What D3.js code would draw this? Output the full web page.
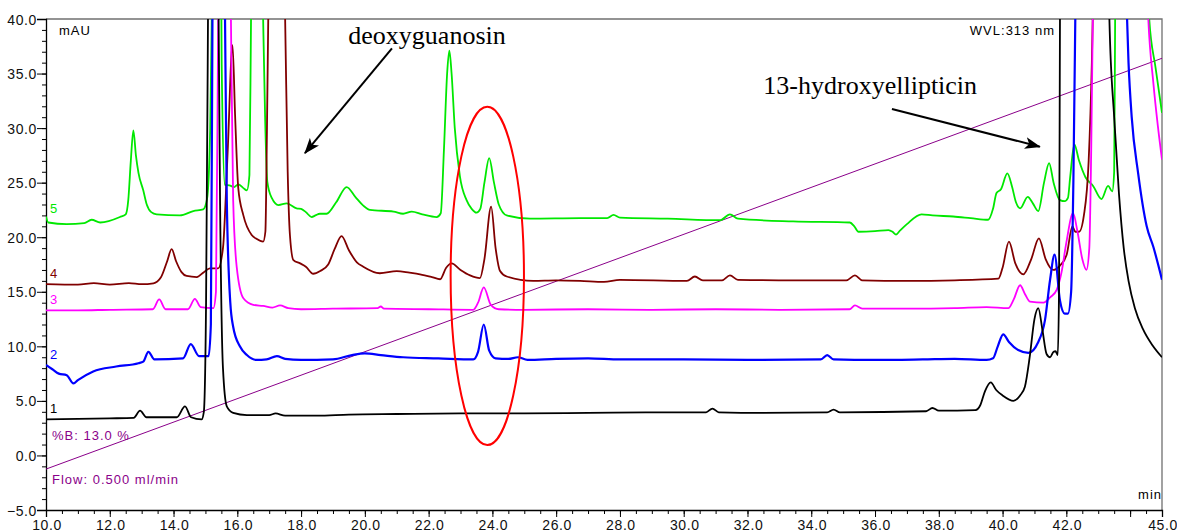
<!DOCTYPE html>
<html>
<head>
<meta charset="utf-8">
<script src="https://cdn.jsdelivr.net/npm/d3@7"></script>
<style>
  html, body { margin: 0; padding: 0; background: #fff; }
  svg text { font-family: "Liberation Sans", Arial, sans-serif; }
</style>
</head>
<body>
<svg id="chart" width="1177" height="532"></svg>
<script>
// ---- axes ----
const timeDomain = [10, 45];          // min
const signalDomain = [-5, 40];        // mAU
const xLabelTicks = [10, 12, 14, 16, 18, 20, 22, 24, 26, 28, 30, 32, 34, 36, 38, 40, 42, 45];
const xMajorTicks = [10, 12, 14, 16, 18, 20, 22, 24, 26, 28, 30, 32, 34, 36, 38, 40, 42, 44, 45];
const yLabelTicks = [-5, 0, 5, 10, 15, 20, 25, 30, 35, 40];

// ---- chromatograms: [retention time (min), absorbance (mAU)] ----
const trace1 = [
  [10.0, 3.3], [11.0, 3.35], [12.0, 3.4], [12.75, 3.45], [12.95, 4.1], [13.15, 3.5], [14.1, 3.5],
  [14.36, 4.5], [14.55, 3.5], [14.88, 3.3], [14.95, 4.0], [15.02, 14], [15.08, 40], [15.2, 110],
  [15.3, 110], [15.4, 45], [15.46, 23], [15.55, 8], [15.67, 4.5], [15.87, 3.9], [16.3, 3.7],
  [17.0, 3.7], [17.2, 3.85], [17.5, 3.65], [18.5, 3.65], [19.5, 3.75], [21.0, 3.8], [23.0, 3.85],
  [25.0, 3.85], [27.0, 3.9], [29.0, 3.95], [30.7, 3.95], [30.9, 4.3], [31.1, 3.95], [32.5, 3.9],
  [34.5, 3.95], [34.7, 4.2], [34.9, 3.95], [37.6, 4.05], [37.8, 4.35], [38.0, 4.1], [39.15, 4.15],
  [39.3, 4.6], [39.45, 5.9], [39.63, 6.7], [39.8, 6.0], [40.0, 5.5], [40.34, 5.0], [40.55, 5.5],
  [40.7, 6.3], [40.85, 9.0], [41.0, 12.5], [41.12, 13.5], [41.25, 11.5], [41.38, 9.3], [41.49, 9.0],
  [41.6, 9.5], [41.66, 9.55], [41.73, 9.2], [41.77, 15], [41.8, 40], [41.9, 90], [42.5, 250],
  [43.2, 70], [43.35, 40], [43.5, 31], [43.65, 24], [43.8, 19], [43.95, 16], [44.15, 13.5],
  [44.4, 11.6], [44.7, 10.1], [45.0, 9.0]
];

const trace2 = [
  [10.0, 8.3], [10.2, 7.9], [10.4, 7.5], [10.65, 7.35], [10.86, 6.6], [11.0, 6.9], [11.48, 7.7],
  [12.2, 8.15], [12.9, 8.45], [13.05, 8.6], [13.21, 9.5], [13.4, 8.8], [14.3, 8.9], [14.54, 10.2],
  [14.8, 9.1], [15.1, 9.1], [15.17, 12], [15.22, 40], [15.4, 100], [15.6, 45], [15.67, 23.4],
  [15.78, 14], [15.87, 11.8], [16.08, 10.0], [16.3, 9.2], [16.6, 8.75], [16.92, 8.8], [17.24, 9.1],
  [17.5, 8.85], [18.0, 8.75], [19.0, 8.8], [19.6, 9.2], [20.0, 9.35], [20.5, 9.2], [21.2, 9.0],
  [22.3, 8.9], [23.4, 8.8], [23.55, 9.5], [23.73, 12.0], [23.9, 9.6], [24.1, 8.9], [24.5, 8.85],
  [24.8, 9.0], [25.1, 8.75], [26.0, 8.85], [27.0, 8.9], [28.0, 8.8], [30.0, 8.8], [32.0, 8.75],
  [34.3, 8.8], [34.5, 9.2], [34.7, 8.8], [36.0, 8.75], [37.5, 8.8], [38.5, 8.85], [39.5, 8.75],
  [39.7, 8.9], [39.85, 10.0], [40.02, 11.1], [40.2, 10.4], [40.49, 9.66], [40.81, 9.4], [41.12, 10.4],
  [41.33, 12.4], [41.49, 16.1], [41.63, 18.4], [41.8, 14.2], [41.95, 13.0], [42.05, 13.0],
  [42.15, 15], [42.22, 25], [42.3, 45], [43.1, 150], [43.85, 45], [43.95, 36], [44.05, 31],
  [44.25, 25.9], [44.52, 21], [44.73, 19.1], [45.0, 16.1]
];

const trace3 = [
  [10.0, 13.3], [11.0, 13.3], [12.0, 13.35], [13.35, 13.4], [13.55, 14.3], [13.75, 13.4],
  [14.45, 13.4], [14.67, 14.35], [14.85, 13.6], [15.25, 13.5], [15.33, 15], [15.4, 40], [15.6, 100],
  [15.8, 40], [15.87, 23.4], [15.98, 17.3], [16.19, 14.4], [16.5, 13.8], [16.81, 13.7], [17.1, 13.55],
  [17.34, 13.75], [17.6, 13.5], [18.0, 13.4], [19.0, 13.45], [20.4, 13.5], [20.5, 13.65], [20.6, 13.45],
  [22.0, 13.4], [23.4, 13.35], [23.55, 14.0], [23.73, 15.4], [23.95, 13.8], [24.2, 13.4], [25.0, 13.35],
  [27.0, 13.4], [29.0, 13.35], [31.0, 13.4], [33.0, 13.35], [35.2, 13.4], [35.37, 13.75], [35.6, 13.45],
  [37.0, 13.45], [38.5, 13.5], [39.5, 13.6], [40.18, 13.5], [40.35, 14.3], [40.55, 15.6], [40.7, 14.8],
  [40.86, 14.1], [41.28, 14.0], [41.5, 14.5], [41.7, 15.2], [41.85, 16.8], [42.0, 19.5], [42.21, 22.2],
  [42.35, 20.5], [42.5, 18], [42.63, 17.0], [42.72, 19], [42.78, 28], [42.85, 45], [43.6, 150],
  [44.45, 50], [44.57, 40], [44.73, 34.1], [44.87, 30.2], [45.0, 27.1]
];

const trace4 = [
  [10.0, 15.7], [11.0, 15.65], [11.5, 15.8], [12.0, 15.65], [12.6, 15.8], [13.0, 15.7], [13.37, 15.78],
  [13.6, 16.3], [13.8, 17.8], [13.94, 18.9], [14.08, 17.8], [14.25, 16.8], [14.41, 16.45], [14.73, 16.35],
  [14.95, 16.8], [15.14, 17.15], [15.4, 17.15], [15.55, 19], [15.7, 28], [15.85, 37.6], [15.93, 31.2],
  [16.03, 24.5], [16.19, 22.0], [16.45, 20.2], [16.6, 19.85], [16.81, 19.6], [16.88, 20.5], [16.93, 30],
  [16.97, 40], [17.2, 70], [17.5, 40], [17.58, 26], [17.65, 20.2], [17.76, 17.9], [17.97, 17.6],
  [18.15, 17.3], [18.38, 16.65], [18.6, 16.9], [18.85, 17.5], [19.05, 18.9], [19.27, 20.1], [19.5, 18.8],
  [19.75, 17.7], [19.95, 17.3], [20.47, 16.7], [21.0, 16.9], [21.4, 16.75], [21.73, 16.6], [22.1, 16.35],
  [22.36, 16.15], [22.55, 17.2], [22.72, 17.6], [23.0, 17.0], [23.3, 16.5], [23.61, 16.25], [23.75, 18],
  [23.96, 22.8], [24.1, 19], [24.24, 16.9], [24.45, 16.4], [25.28, 16.0], [26.0, 16.05], [26.75, 16.0],
  [27.5, 15.9], [28.0, 16.1], [30.1, 16.0], [30.35, 16.4], [30.6, 16.05], [31.2, 16.05], [31.45, 16.5],
  [31.7, 16.1], [33.5, 16.05], [35.1, 16.05], [35.37, 16.5], [35.6, 16.05], [37.0, 16.0], [38.5, 16.05],
  [39.87, 16.2], [40.0, 17.2], [40.2, 19.6], [40.4, 17.6], [40.65, 16.6], [40.9, 18], [41.14, 19.9],
  [41.35, 18], [41.59, 17.0], [41.8, 17.4], [42.01, 18.4], [42.19, 21.0], [42.28, 20.5], [42.4, 20.5],
  [42.55, 22], [42.7, 27], [42.8, 36], [42.86, 45], [43.5, 150], [45.0, 120]
];

const trace5 = [
  [10.0, 21.9], [10.07, 21.35], [10.65, 21.2], [11.2, 21.3], [11.43, 21.6], [11.7, 21.35], [12.32, 21.85],
  [12.5, 22.1], [12.58, 23.4], [12.66, 27], [12.74, 29.8], [12.82, 27.5], [12.9, 25.9], [13.05, 24.3],
  [13.16, 23.0], [13.3, 22.3], [13.47, 22.1], [14.2, 22.0], [14.62, 22.4], [14.93, 22.55], [15.05, 23.5],
  [15.15, 30], [15.22, 45], [15.4, 80], [15.51, 35.8], [15.61, 24.8], [15.75, 24.75], [15.9, 24.6],
  [16.03, 24.85], [16.19, 24.5], [16.3, 24.3], [16.38, 25.7], [16.43, 40], [16.6, 80], [16.81, 40],
  [16.87, 31.2], [16.94, 25.1], [17.08, 23.6], [17.29, 22.95], [17.55, 23.1], [17.86, 22.65], [18.0, 22.6],
  [18.15, 22.3], [18.33, 21.85], [18.45, 22.0], [18.59, 22.15], [18.8, 22.15], [19.1, 23.2], [19.43, 24.6],
  [19.7, 23.7], [19.95, 22.9], [20.16, 22.5], [20.9, 22.35], [21.2, 22.15], [21.47, 22.35], [21.8, 22.1],
  [22.25, 21.85], [22.38, 22.2], [22.48, 28], [22.58, 35], [22.65, 37.1], [22.72, 35], [22.82, 30],
  [22.98, 25.6], [23.19, 23.4], [23.35, 22.6], [23.5, 22.25], [23.62, 22.6], [23.75, 25], [23.9, 27.25],
  [24.05, 25], [24.2, 23], [24.45, 22.0], [25.18, 21.7], [26.75, 21.75], [27.6, 21.75], [27.8, 22.05],
  [28.0, 21.8], [29.5, 21.7], [31.14, 21.56], [31.45, 22.1], [31.7, 21.7], [33.43, 21.45], [35.21, 21.35],
  [35.35, 21.0], [35.48, 20.5], [36.0, 20.55], [36.42, 20.65], [36.55, 20.5], [36.66, 20.25], [36.78, 20.6],
  [37.0, 21.2], [37.46, 22.1], [37.8, 22.0], [38.45, 21.9], [39.0, 21.75], [39.55, 21.6], [39.7, 22.6],
  [39.81, 24.05], [39.95, 24.4], [40.15, 25.85], [40.3, 24.6], [40.42, 23.2], [40.55, 22.65], [40.79, 23.7],
  [40.95, 23.1], [41.12, 22.4], [41.3, 25], [41.46, 26.8], [41.6, 25], [41.8, 23.4], [41.95, 23.3],
  [42.05, 23.6], [42.12, 25.5], [42.25, 28.5], [42.4, 27.0], [42.6, 25.5], [42.84, 24.7], [43.1, 23.5],
  [43.31, 24.7], [43.44, 24.2], [43.5, 26], [43.53, 40], [44.0, 150], [44.6, 40], [44.8, 35.5], [45.0, 31.4]
];

// solvent gradient (%B) drawn on the mAU scale
const gradient = [[10.0, -1.25], [45.0, 36.4]];

const traceIds = ["5", "4", "3", "2", "1"];
const traceColors = ["#00e800", "#800000", "#ff00ff", "#0000ff", "#000000"];
const traceData = [trace5, trace4, trace3, trace2, trace1];

// highlighted region (centre time, centre mAU, half-width min, half-height mAU)
const highlight = [23.84, 16.45, 1.15, 15.5];

// compound annotations: label, label anchor, arrow start, arrow tip
const annotations = [
  { text: "deoxyguanosin", at: [21.95, 37.7], from: [20.85, 37.3], to: [18.12, 27.7] },
  { text: "13-hydroxyellipticin", at: [35.85, 33.1], from: [36.53, 31.75], to: [41.17, 28.3] }
];

// ---- drawing ----
const svg = d3.select("#chart");
const plotLeft = 46, plotRight = 1162, plotTop = 19, plotBottom = 510;
const x = d3.scaleLinear().domain(timeDomain).range([plotLeft, plotRight]);
const y = d3.scaleLinear().domain(signalDomain).range([plotBottom, plotTop]);

svg.append("rect").attr("width", 1177).attr("height", 532).attr("fill", "#fff");

const defs = svg.append("defs");
defs.append("clipPath").attr("id", "plot")
  .append("rect").attr("x", plotLeft).attr("y", plotTop)
  .attr("width", plotRight - plotLeft).attr("height", plotBottom - plotTop);
defs.append("marker").attr("id", "head")
  .attr("viewBox", "0 0 16 12").attr("refX", 15).attr("refY", 6)
  .attr("markerWidth", 16).attr("markerHeight", 12)
  .attr("markerUnits", "userSpaceOnUse").attr("orient", "auto")
  .append("path").attr("d", "M0,0 L16,6 L0,12 L4,6 Z").attr("fill", "#000");

// frame: gray top/right, black axes
svg.append("path")
  .attr("d", `M${plotLeft},${plotTop}H${plotRight}V${plotBottom}`)
  .attr("fill", "none").attr("stroke", "#707070").attr("stroke-width", 1.3);

// y axis
const yAxis = d3.axisLeft(y).tickValues(yLabelTicks).tickSize(9).tickFormat(d3.format(".1f"));
const gy = svg.append("g").attr("transform", `translate(${plotLeft},0)`).call(yAxis);
gy.select(".domain").attr("stroke", "#000").attr("stroke-width", 1.3);
gy.selectAll(".tick line").attr("stroke", "#000");
gy.selectAll(".tick text").attr("font-size", 14).attr("letter-spacing", "0.6px")
  .attr("fill", "#111").attr("x", -9).attr("dy", "0.36em");
const yMinor = d3.axisLeft(y).tickValues(d3.range(-5, 40.001, 1)).tickSize(4).tickFormat("");
svg.append("g").attr("transform", `translate(${plotLeft},0)`).call(yMinor)
  .call(g => g.select(".domain").remove());

// x axis
const xMinor = d3.axisBottom(x).tickValues(d3.range(10, 45.001, 0.5)).tickSize(4).tickFormat("");
svg.append("g").attr("transform", `translate(0,${plotBottom})`).call(xMinor)
  .call(g => g.select(".domain").remove());
const xMajor = d3.axisBottom(x).tickValues(xMajorTicks).tickSize(7).tickFormat("");
const gx = svg.append("g").attr("transform", `translate(0,${plotBottom})`).call(xMajor);
gx.select(".domain").attr("stroke", "#000").attr("stroke-width", 1.3);
svg.append("g").selectAll("text").data(xLabelTicks).join("text")
  .attr("x", d => x(d) + 1).attr("y", 530)
  .attr("text-anchor", "middle").attr("font-size", 14).attr("letter-spacing", "0.6px")
  .attr("fill", "#111").text(d => d3.format(".1f")(d));

// axis captions
svg.append("text").attr("x", 59).attr("y", 35).attr("font-size", 13).attr("letter-spacing", "1px").text("mAU");
svg.append("text").attr("x", 1055).attr("y", 35).attr("text-anchor", "end").attr("font-size", 13)
  .attr("letter-spacing", "1px").text("WVL:313 nm");
svg.append("text").attr("x", 1162).attr("y", 499).attr("text-anchor", "end").attr("font-size", 13)
  .attr("letter-spacing", "1px").text("min");

const plot = svg.append("g").attr("clip-path", "url(#plot)");

// gradient line
plot.append("path")
  .attr("d", d3.line().x(d => x(d[0])).y(d => y(d[1]))(gradient))
  .attr("fill", "none").attr("stroke", "#8a008a").attr("stroke-width", 1);

// chromatograms, each with its run number at the left edge
const labelOffsets = [3.5, 6, 6, 6, 6];
const line = d3.line().x(d => x(d[0])).y(d => y(d[1])).curve(d3.curveMonotoneX);
traceData.forEach((data, i) => {
  plot.append("path")
    .attr("d", line(data))
    .attr("fill", "none")
    .attr("stroke", traceColors[i])
    .attr("stroke-width", traceIds[i] === "2" ? 2.2 : 1.8)
    .attr("stroke-linejoin", "round");
  svg.append("text")
    .attr("x", 50).attr("y", y(data[0][1]) - labelOffsets[i])
    .attr("font-size", 13).attr("fill", traceColors[i])
    .text(traceIds[i]);
});

// gradient / flow captions
svg.append("text").attr("x", 52).attr("y", 440).attr("font-size", 13).attr("letter-spacing", "1px")
  .attr("fill", "#8a008a").text("%B: 13.0 %");
svg.append("text").attr("x", 52).attr("y", 484).attr("font-size", 13).attr("letter-spacing", "1px")
  .attr("fill", "#8a008a").text("Flow: 0.500 ml/min");

// highlighted peak group
svg.append("ellipse")
  .attr("cx", x(highlight[0])).attr("cy", y(highlight[1]))
  .attr("rx", x(highlight[0] + highlight[2]) - x(highlight[0]))
  .attr("ry", y(highlight[1]) - y(highlight[1] + highlight[3]))
  .attr("fill", "none").attr("stroke", "#ff0000").attr("stroke-width", 2);

// annotations
annotations.forEach(a => {
  svg.append("line")
    .attr("x1", x(a.from[0])).attr("y1", y(a.from[1]))
    .attr("x2", x(a.to[0])).attr("y2", y(a.to[1]))
    .attr("stroke", "#000").attr("stroke-width", 2)
    .attr("marker-end", "url(#head)");
  svg.append("text")
    .attr("x", x(a.at[0])).attr("y", y(a.at[1]))
    .attr("text-anchor", "middle")
    .style("font-family", "'Liberation Serif', 'Times New Roman', serif")
    .attr("font-size", 26).attr("fill", "#000")
    .text(a.text);
});
</script>
</body>
</html>
